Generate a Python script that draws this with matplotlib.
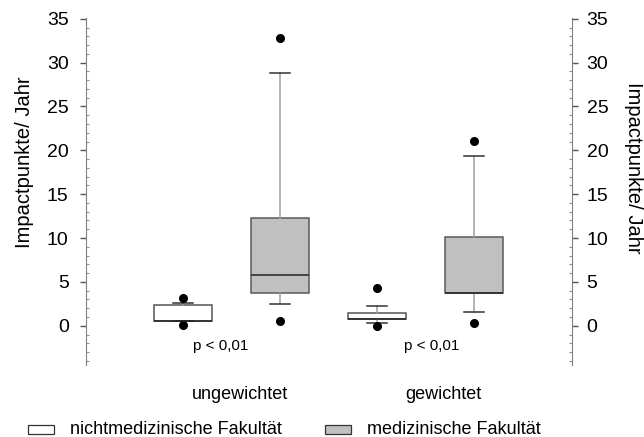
import matplotlib
matplotlib.use("Agg")
import matplotlib.pyplot as plt
from matplotlib.patches import Rectangle
from matplotlib.ticker import MultipleLocator

plt.rcParams["font.family"] = ["Liberation Sans", "DejaVu Sans"]

# values (Impactpunkte / Jahr)
categories = ["ungewichtet", "gewichtet"]
series = ["nichtmedizinische Fakultät", "medizinische Fakultät"]
whislo = [[0.55, 2.44], [0.27, 1.6]]
q1 = [[0.55, 3.76], [0.73, 3.7]]
median = [[0.55, 5.78], [0.73, 3.7]]
q3 = [[2.35, 12.25], [1.48, 10.08]]
whishi = [[2.55, 28.85], [2.25, 19.3]]
fliers = [[[3.2, 0.1], [32.77, 0.57]], [[4.26, 0.0], [21.1, 0.27]]]
p_labels = ["p < 0,01", "p < 0,01"]

fills = ["white", "#c0c0c0"]
edges = ["#555555", "#5a5a5a"]

fig = plt.figure(figsize=(6.44, 4.37), dpi=100)
ax = fig.add_axes([86 / 644, 1 - 365.2 / 437, 486 / 644, 347.3 / 437])

for i, cat in enumerate(categories):
    for j in range(len(series)):
        st = dict(whislo=whislo[i][j], q1=q1[i][j], med=median[i][j],
                  q3=q3[i][j], whishi=whishi[i][j], fliers=fliers[i][j])
        ax.bxp([st], positions=[1 + 2 * i + j], widths=0.6, capwidths=0.2,
               patch_artist=True, manage_ticks=False,
               boxprops=dict(facecolor=fills[j], edgecolor=edges[j], lw=1.1),
               medianprops=dict(color="#222222", lw=1.1),
               whiskerprops=dict(color="#a0a0a0", lw=1.1),
               capprops=dict(color="#333333", lw=1.1),
               flierprops=dict(marker="o", markerfacecolor="black",
                               markeredgecolor="black", markersize=5.5))

ax.set_xlim(0, 5.01)
ax.set_ylim(-4.5, 35.1)

# p-values and category captions
ax.text(1.39, -2.3, p_labels[0], ha="center", va="center", fontsize=11)
ax.text(3.56, -2.3, p_labels[1], ha="center", va="center", fontsize=11)
ax.text(1.59, -7.8, categories[0], ha="center", va="center", fontsize=13, clip_on=False)
ax.text(3.68, -7.8, categories[1], ha="center", va="center", fontsize=13, clip_on=False)

ax2 = ax.twinx()
ax2.set_ylim(ax.get_ylim())
for a in (ax, ax2):
    for s in ("top", "bottom"):
        a.spines[s].set_visible(False)
    a.spines["left"].set_color("#808080")
    a.spines["right"].set_color("#808080")
    a.set_xticks([])
    a.yaxis.set_major_locator(MultipleLocator(5))
    a.yaxis.set_minor_locator(MultipleLocator(1))
    a.set_yticks(range(0, 36, 5))
    a.tick_params(axis="y", which="major", direction="out", length=4.5, width=1,
                  color="#555555", labelsize=14, pad=8)
    a.tick_params(axis="y", which="minor", direction="in", length=2.5, width=0.8,
                  color="#909090")
ax.spines["right"].set_visible(False)
ax2.spines["left"].set_visible(False)
ax2.tick_params(axis="y", which="major", pad=6)

fig.text(25 / 644, 1 - 162 / 437, "Impactpunkte/ Jahr", rotation=90,
         ha="center", va="center", fontsize=14.5)
fig.text(633 / 644, 1 - 168 / 437, "Impactpunkte/ Jahr", rotation=-90,
         ha="center", va="center", fontsize=14.5)

# legend drawn by hand along the bottom edge
leg_x = [28, 325]
for j, name in enumerate(series):
    fig.patches.append(Rectangle((leg_x[j] / 644, 1 - 434 / 437), 26 / 644, 9 / 437,
                                 transform=fig.transFigure, facecolor=fills[j],
                                 edgecolor="#333333", lw=0.9))
    fig.text((leg_x[j] + 42) / 644, 1 - 429 / 437, name, ha="left", va="center",
             fontsize=13)

fig.savefig("out.png", dpi=100)
